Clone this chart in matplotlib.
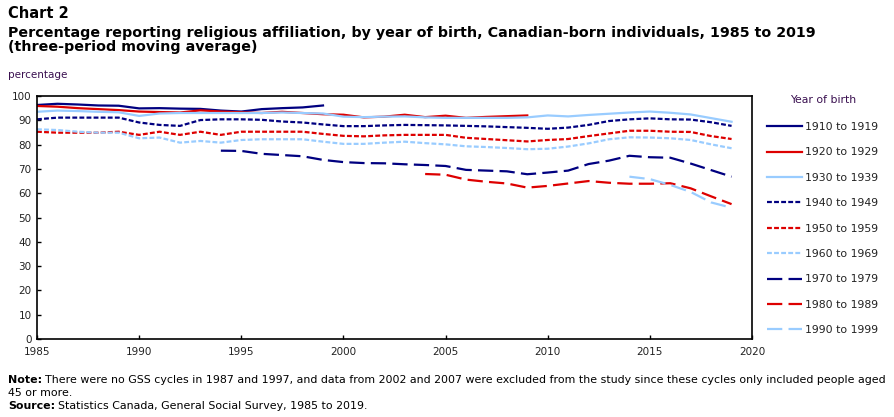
"""Chart 2: religious affiliation by year of birth, Canadian-born (GSS 1985-2019)."""

import matplotlib

matplotlib.use("Agg")
import matplotlib.pyplot as plt

NAVY = "#000080"
RED = "#dd0000"
LIGHT = "#99ccff"
TEXT = "#222222"

plt.rcParams.update({
    "font.family": ["DejaVu Sans"],
    "lines.scale_dashes": False,
})

# three-period moving average, % reporting a religious affiliation
years_1910 = list(range(1985, 2000))
pct_1910 = [96.3, 96.8, 96.5, 96.1, 96.0, 94.9, 95.0, 94.8, 94.7, 94.0, 93.6, 94.6, 95.0, 95.3, 96.1]

years_1920 = list(range(1985, 2010))
pct_1920 = [95.9, 95.6, 95.0, 94.6, 94.2, 93.6, 93.4, 93.2, 94.1, 93.6, 93.3, 93.0, 93.5,
            93.0, 92.5, 92.3, 91.2, 91.5, 92.3, 91.3, 91.9, 91.0, 91.4, 91.7, 92.0]

years_1930 = list(range(1985, 2020))
pct_1930 = [93.5, 94.0, 93.8, 93.5, 93.3, 91.8, 92.8, 93.0, 93.0, 93.0, 93.0, 93.0, 93.2,
            93.0, 92.8, 91.5, 91.3, 91.5, 91.6, 91.2, 91.0, 91.0, 91.0, 91.0, 91.2, 92.0,
            91.6, 92.2, 92.7, 93.2, 93.6, 93.1, 92.4, 90.9, 89.4]

years_1940 = list(range(1985, 2020))
pct_1940 = [90.4, 91.1, 91.1, 91.1, 91.1, 89.1, 88.1, 87.7, 90.1, 90.4, 90.4, 90.2, 89.5,
            89.1, 88.3, 87.6, 87.6, 87.9, 88.1, 88.0, 87.9, 87.7, 87.5, 87.2, 86.9, 86.5,
            87.0, 88.1, 89.7, 90.4, 90.8, 90.4, 90.3, 89.2, 87.7]

years_1950 = list(range(1985, 2020))
pct_1950 = [85.3, 84.9, 84.9, 84.9, 85.3, 84.0, 85.3, 84.0, 85.3, 84.0, 85.3, 85.3, 85.3,
            85.3, 84.4, 83.6, 83.4, 83.8, 84.0, 84.0, 84.0, 82.8, 82.3, 81.8, 81.3, 81.9,
            82.3, 83.5, 84.6, 85.7, 85.7, 85.3, 85.2, 83.5, 82.3]

years_1960 = list(range(1985, 2020))
pct_1960 = [86.3, 86.0, 85.3, 84.9, 84.9, 82.6, 82.9, 80.8, 81.5, 80.8, 81.9, 82.2, 82.2,
            82.2, 81.2, 80.3, 80.3, 80.8, 81.2, 80.6, 80.1, 79.3, 79.0, 78.6, 78.1, 78.3,
            79.2, 80.5, 82.2, 83.0, 82.9, 82.6, 81.9, 80.1, 78.5]

years_1970 = list(range(1994, 2020))
pct_1970 = [77.5, 77.4, 76.2, 75.7, 75.2, 73.7, 72.8, 72.4, 72.3, 71.9, 71.6, 71.2, 69.6,
            69.3, 69.0, 67.8, 68.5, 69.3, 72.0, 73.4, 75.4, 74.8, 74.6, 72.2, 69.5, 66.8]

years_1980 = list(range(2004, 2020))
pct_1980 = [67.9, 67.6, 65.6, 64.7, 64.0, 62.3, 63.0, 64.0, 65.0, 64.3, 63.9, 63.9, 64.1,
            62.0, 58.7, 55.5]

years_1990 = list(range(2014, 2020))
pct_1990 = [66.8, 65.8, 63.4, 60.5, 56.2, 54.0]

SHORT = (0, (3.5, 1.6))
LONG = (0, (11, 4.5))
series = [
    ("1910 to 1919", years_1910, pct_1910, NAVY, "-"),
    ("1920 to 1929", years_1920, pct_1920, RED, "-"),
    ("1930 to 1939", years_1930, pct_1930, LIGHT, "-"),
    ("1940 to 1949", years_1940, pct_1940, NAVY, SHORT),
    ("1950 to 1959", years_1950, pct_1950, RED, SHORT),
    ("1960 to 1969", years_1960, pct_1960, LIGHT, SHORT),
    ("1970 to 1979", years_1970, pct_1970, NAVY, LONG),
    ("1980 to 1989", years_1980, pct_1980, RED, LONG),
    ("1990 to 1999", years_1990, pct_1990, LIGHT, LONG),
]

W, H = 895, 417
fig = plt.figure(figsize=(W / 100, H / 100), dpi=100)
ax = fig.add_axes([37 / W, 1 - 339 / H, (752 - 37) / W, (339 - 96) / H])

for label, x, y, color, ls in series:
    ax.plot(x, y, color=color, ls=ls, lw=1.6, label=label)

ax.set_xlim(1985, 2020)
ax.set_ylim(0, 100)
ax.set_xticks(range(1985, 2021, 5))
ax.set_yticks(range(0, 101, 10))
ax.tick_params(direction="in", length=3, width=1, labelsize=7.5, colors="black",
               labelcolor=TEXT)
ax.tick_params(axis="x", pad=6)
ax.tick_params(axis="y", pad=4)
for s in ax.spines.values():
    s.set_linewidth(1.2)

leg = ax.legend(loc="upper left", bbox_to_anchor=(763 / W, 1 - 91 / H),
                bbox_transform=fig.transFigure, frameon=False, fontsize=7.8,
                title="Year of birth", title_fontsize=7.8, handlelength=3.2,
                handletextpad=0.3, labelspacing=1.42, borderaxespad=0)
leg.get_title().set_color("#3a1050")
leg._legend_box.sep = 12
for t in leg.get_texts():
    t.set_color(TEXT)

fig.text(8 / W, 1 - 13 / H, "Chart 2", fontsize=10.5, fontweight="bold", va="center")
fig.text(8 / W, 1 - 40 / H,
         "Percentage reporting religious affiliation, by year of birth, Canadian-born individuals, 1985 to 2019\n"
         "(three-period moving average)",
         fontsize=10.3, fontweight="bold", va="center", linespacing=1.05)
fig.text(8 / W, 1 - 75 / H, "percentage", fontsize=7.5, color="#3a1050", va="center")


def lead_text(y_px, head, body, size=7.9):
    """Bold lead-in word followed by normal text on the same line."""
    t = fig.text(8 / W, 1 - y_px / H, head, fontsize=size, fontweight="bold", va="center")
    fig.canvas.draw()
    bb = t.get_window_extent()
    fig.text((bb.x1 + 3) / W, 1 - y_px / H, body, fontsize=size, va="center")


lead_text(380, "Note:", "There were no GSS cycles in 1987 and 1997, and data from 2002 and 2007 "
          "were excluded from the study since these cycles only included people aged")
fig.text(8 / W, 1 - 393 / H, "45 or more.", fontsize=7.9, va="center")
lead_text(406, "Source:", "Statistics Canada, General Social Survey, 1985 to 2019.")

fig.savefig("out.png", dpi=100, facecolor="white")
